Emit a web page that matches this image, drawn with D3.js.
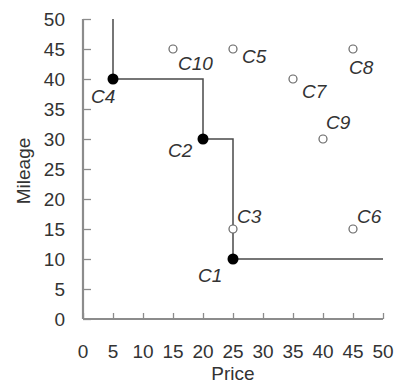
<!DOCTYPE html>
<html>
<head>
<meta charset="utf-8">
<script src="https://cdn.jsdelivr.net/npm/d3@7"></script>
<style>
  body { margin: 0; background: #fff; }
  svg { display: block; font-family: "Liberation Sans", Arial, sans-serif; }
</style>
</head>
<body>
<div id="chart"></div>
<script>
// cars: name, price, mileage, on skyline?
const names = ['C1', 'C2', 'C3', 'C4', 'C5', 'C6', 'C7', 'C8', 'C9', 'C10'];
const prices = [25, 20, 25, 5, 25, 45, 35, 45, 40, 15];
const mileages = [10, 30, 15, 40, 45, 15, 40, 45, 30, 45];
const skyline = ['C1', 'C2', 'C4'];

// staircase of the skyline
const stepPrice = [5, 5, 20, 20, 25, 25, 50];
const stepMileage = [50, 40, 40, 30, 30, 10, 10];

const xTicks = [0, 5, 10, 15, 20, 25, 30, 35, 40, 45, 50];
const yTicks = [0, 5, 10, 15, 20, 25, 30, 35, 40, 45, 50];

// label placement relative to the point (layout only)
const labelOffset = {
  C1: [-35, 23], C2: [-35, 18], C3: [4, -6], C4: [-22, 24], C5: [9, 14],
  C6: [4, -6], C7: [9, 19], C8: [-4, 25], C9: [3, -10], C10: [5, 21]
};

const width = 397;
const height = 385;
const margin = { top: 19, right: 14, bottom: 66, left: 83 };
const fontSize = 19;

const svg = d3.select('#chart')
  .append('svg')
  .attr('width', width)
  .attr('height', height);

const x = d3.scaleLinear().domain([0, 50]).range([margin.left, width - margin.right]);
const y = d3.scaleLinear().domain([0, 50]).range([height - margin.bottom, margin.top]);

const axisColor = '#8c8c8c';
const textColor = '#333';

// axes, ticks pointing inward
const xAxis = svg.append('g')
  .attr('transform', `translate(0,${y(0)})`)
  .call(d3.axisTop(x).tickValues(xTicks).tickSize(6).tickFormat(''));
xAxis.select('.domain').attr('d', `M${x(0)},0H${x(50)}`);

const yAxis = svg.append('g')
  .attr('transform', `translate(${x(0)},0)`)
  .call(d3.axisRight(y).tickValues(yTicks).tickSize(8).tickFormat(''));
yAxis.select('.domain').attr('d', `M0,${y(50)}V${y(0)}`);

svg.selectAll('.domain').attr('stroke', axisColor).attr('stroke-width', 2.2);
svg.selectAll('.tick line').attr('stroke', axisColor).attr('stroke-width', 1.3);

svg.append('g')
  .selectAll('text')
  .data(xTicks)
  .join('text')
  .attr('x', (d) => x(d))
  .attr('y', y(0) + 39)
  .attr('text-anchor', 'middle')
  .attr('font-size', fontSize)
  .attr('fill', textColor)
  .text((d) => d);

svg.append('g')
  .selectAll('text')
  .data(yTicks)
  .join('text')
  .attr('x', x(0) - 18)
  .attr('y', (d) => y(d) + 7)
  .attr('text-anchor', 'end')
  .attr('font-size', fontSize)
  .attr('fill', textColor)
  .text((d) => d);

svg.append('text')
  .attr('x', (x(0) + x(50)) / 2)
  .attr('y', 380)
  .attr('text-anchor', 'middle')
  .attr('font-size', fontSize)
  .attr('fill', textColor)
  .text('Price');

svg.append('text')
  .attr('transform', `translate(30,${(y(0) + y(50)) / 2 + 2}) rotate(-90)`)
  .attr('text-anchor', 'middle')
  .attr('font-size', fontSize)
  .attr('fill', textColor)
  .text('Mileage');

// skyline staircase
const steps = stepPrice.map((p, i) => [p, stepMileage[i]]);
svg.append('path')
  .datum(steps)
  .attr('fill', 'none')
  .attr('stroke', '#4a4a4a')
  .attr('stroke-width', 1.5)
  .attr('d', d3.line().x((d) => x(d[0])).y((d) => y(d[1])));

const cars = names.map((n, i) => ({
  name: n,
  price: prices[i],
  mileage: mileages[i],
  sky: skyline.includes(n)
}));

svg.append('g')
  .selectAll('circle')
  .data(cars)
  .join('circle')
  .attr('cx', (d) => x(d.price))
  .attr('cy', (d) => y(d.mileage))
  .attr('r', (d) => (d.sky ? 5.5 : 4))
  .attr('fill', (d) => (d.sky ? '#000' : '#fff'))
  .attr('stroke', (d) => (d.sky ? '#000' : '#666'))
  .attr('stroke-width', (d) => (d.sky ? 0 : 1.2));

svg.append('g')
  .selectAll('text')
  .data(cars)
  .join('text')
  .attr('x', (d) => x(d.price) + labelOffset[d.name][0])
  .attr('y', (d) => y(d.mileage) + labelOffset[d.name][1])
  .attr('font-size', fontSize)
  .attr('font-style', 'italic')
  .attr('fill', textColor)
  .text((d) => d.name);
</script>
</body>
</html>
